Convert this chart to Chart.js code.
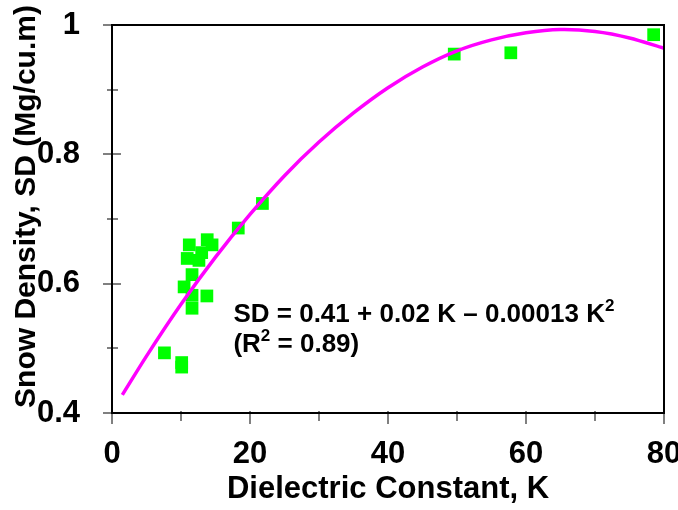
<!DOCTYPE html>
<html>
<head>
<meta charset="utf-8">
<script src="https://cdn.jsdelivr.net/npm/chart.js@4.4.1/dist/chart.umd.min.js"></script>
<style>
  html, body { margin: 0; padding: 0; background: #fff; }
  #wrap { width: 678px; height: 510px; }
</style>
</head>
<body>
<div id="wrap"><canvas id="chart" width="678" height="510"></canvas></div>
<script>
// measured samples
const sampleK  = [7.6, 10.1, 10.1, 10.45, 10.9, 11.2, 11.6, 11.6, 11.6, 12.6, 13.0, 13.75, 13.8, 14.5, 18.3, 21.8, 49.6, 57.8, 78.5];
const sampleSD = [0.493, 0.478, 0.471, 0.595, 0.639, 0.660, 0.614, 0.582, 0.562, 0.636, 0.648, 0.581, 0.668, 0.660, 0.686, 0.724, 0.955, 0.957, 0.985];

// fitted curve
const fitK  = [1.5, 5, 10, 15, 20, 25, 30, 35, 40, 45, 50, 55, 60, 65, 70, 75, 80];
const fitSD = [0.428, 0.488, 0.568, 0.641, 0.707, 0.767, 0.819, 0.864, 0.903, 0.935, 0.960, 0.977, 0.988, 0.993, 0.990, 0.980, 0.964];

// labelled ticks
const xLabels = [0, 20, 40, 60, 80];
const yLabels = [0.4, 0.6, 0.8, 1];

const eqLine1 = [['SD = 0.41 + 0.02 K \u2013 0.00013 K', false], ['2', true]];
const eqLine2 = [['(R', false], ['2', true], [' = 0.89)', false]];

const FONT = "'Liberation Sans', Arial, sans-serif";
Chart.defaults.font.family = FONT;
Chart.defaults.font.weight = 'bold';
Chart.defaults.color = '#000';

const isLabel = (list, v) => list.some(t => Math.abs(t - v) < 1e-6);

// ========== ticks, frame and equation ==========
const framePlugin = {
  id: 'frame',
  afterDraw(chart) {
    const {ctx, chartArea: a, scales: {x, y}} = chart;
    ctx.save();
    ctx.strokeStyle = '#808080';
    ctx.lineWidth = 2;
    y.ticks.forEach(t => {
      const py = Math.round(y.getPixelForValue(t.value));
      const big = isLabel(yLabels, t.value);
      ctx.beginPath();
      ctx.moveTo(a.left - (big ? 9 : 5), py);
      ctx.lineTo(a.left + (big ? 9 : 6), py);
      ctx.stroke();
    });
    x.ticks.forEach(t => {
      const px = Math.round(x.getPixelForValue(t.value));
      const big = isLabel(xLabels, t.value);
      ctx.beginPath();
      ctx.moveTo(px, a.bottom - 2);
      ctx.lineTo(px, a.bottom + (big ? 11 : 8));
      ctx.stroke();
    });
    ctx.strokeStyle = '#000';
    ctx.strokeRect(a.left, a.top, a.right - a.left, a.bottom - a.top);

    // equation
    const drawRuns = (runs, px, py) => {
      let cx = px;
      runs.forEach(([txt, sup]) => {
        ctx.font = 'bold ' + (sup ? 17 : 26) + 'px ' + FONT;
        ctx.fillText(txt, cx, sup ? py - 11 : py);
        cx += ctx.measureText(txt).width;
      });
    };
    ctx.fillStyle = '#000';
    ctx.textBaseline = 'alphabetic';
    ctx.textAlign = 'left';
    const ex = x.getPixelForValue(17.6);
    const ey = y.getPixelForValue(0.541);
    drawRuns(eqLine1, ex, ey);
    drawRuns(eqLine2, ex, ey + 30);
    ctx.restore();
  }
};

new Chart(document.getElementById('chart'), {
  type: 'scatter',
  data: {
    datasets: [
      {
        data: fitK.map((k, i) => ({x: k, y: fitSD[i]})),
        showLine: true,
        borderColor: '#ff00ff',
        borderWidth: 3.5,
        pointRadius: 0,
        tension: 0.3,
        order: 0
      },
      {
        data: sampleK.map((k, i) => ({x: k, y: sampleSD[i]})),
        pointStyle: 'rect',
        pointRadius: 9,
        pointBorderWidth: 0,
        backgroundColor: '#00ff00',
        order: 1
      }
    ]
  },
  options: {
    responsive: false,
    animation: false,
    devicePixelRatio: 1,
    layout: { padding: { top: 25, right: 14, left: 0, bottom: 0 } },
    plugins: { legend: { display: false }, tooltip: { enabled: false } },
    scales: {
      x: {
        type: 'linear',
        min: 0, max: 80,
        grid: { display: false },
        border: { display: false },
        ticks: {
          stepSize: 10,
          padding: 15,
          font: { size: 31, weight: 'bold' },
          callback: v => isLabel(xLabels, v) ? String(v) : ''
        },
        title: {
          display: true,
          text: 'Dielectric Constant, K',
          font: { size: 31, weight: 'bold' },
          padding: { top: 0, bottom: 2 }
        },
        afterFit(s) { s.height = 97; s.paddingLeft = 0; s.paddingRight = 0; }
      },
      y: {
        type: 'linear',
        min: 0.4, max: 1,
        grid: { display: false },
        border: { display: false },
        ticks: {
          stepSize: 0.1,
          padding: 24,
          font: { size: 31, weight: 'bold' },
          callback: v => isLabel(yLabels, v) ? String(Number(v.toFixed(1))) : ''
        },
        title: {
          display: true,
          text: '   Snow Density, SD (Mg/cu.m)',
          font: { size: 30, weight: 'bold' },
          padding: { top: 9, bottom: 0 }
        },
        afterFit(s) { s.width = 112; s.paddingTop = 0; s.paddingBottom = 0; }
      }
    }
  },
  plugins: [framePlugin]
});
</script>
</body>
</html>
